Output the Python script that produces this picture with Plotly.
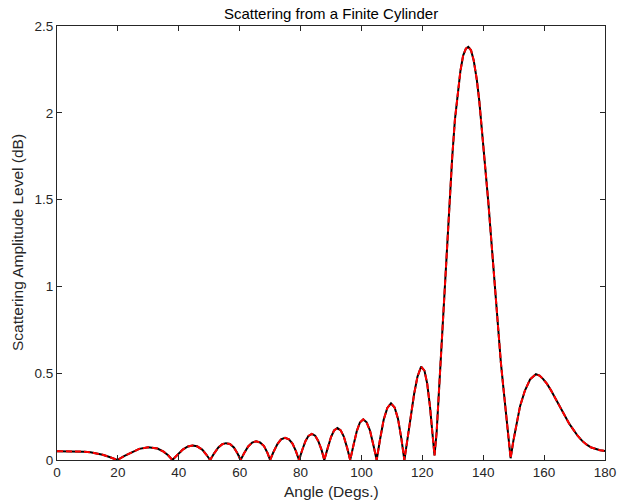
import plotly.graph_objects as go

# Angle (degrees) and scattering amplitude level
angle_deg = [
    0, 3, 6, 9, 11, 13, 15, 17, 18.5, 19.8,
    22, 24.5, 27, 30, 33, 35, 36.5, 37.9,
    39.5, 41.3, 43, 44.5, 46, 47.7, 49.1, 50.3,
    51.5, 53, 54.3, 55.5, 56.8, 58.1, 59.3, 60.3,
    61.5, 62.8, 64.1, 65.4, 66.7, 68.0, 69.1, 70.0,
    71.1, 72.4, 73.6, 74.9, 76.2, 77.4, 78.5, 79.5,
    80.5, 81.6, 82.6, 83.7, 84.8, 85.8, 86.9, 87.8,
    88.9, 90.0, 91.0, 92.1, 93.2, 94.2, 95.3, 96.3,
    97.4, 98.5, 99.5, 100.6, 101.7, 102.8, 103.9, 105.0,
    106.1, 107.3, 108.5, 109.7, 110.9, 112.0, 113.1, 114.1,
    115.2, 116.2, 117.3, 118.4, 119.6, 120.7, 121.6, 122.5, 123.3, 124.0,
    124.7, 125.5, 126.4, 127.2, 128.0, 128.9, 129.8, 130.7, 131.6, 132.5,
    133.4, 134.3, 135.1, 136.0, 136.9, 137.9, 138.7, 139.4, 140.6, 141.7,
    142.5, 143.3, 144.2, 145.0, 145.8, 146.6, 147.3, 148.0, 148.6, 149.0,
    149.9, 151.0, 152.1, 153.7, 155.4, 157.3, 158.5, 159.7, 160.9, 162.3,
    163.7, 165.2, 166.7, 168.2, 169.6, 171.0, 172.5, 174.0, 175.5, 177.0,
    178.4, 180.0,
]
level_exact = [
    0.051, 0.051, 0.050, 0.048, 0.045, 0.039, 0.030, 0.019, 0.009, 0.000,
    0.022, 0.045, 0.064, 0.074, 0.066, 0.048, 0.027, 0.000,
    0.030, 0.060, 0.078, 0.084, 0.079, 0.060, 0.030, 0.000,
    0.035, 0.072, 0.091, 0.097, 0.092, 0.072, 0.037, 0.000,
    0.040, 0.078, 0.100, 0.108, 0.101, 0.080, 0.042, 0.000,
    0.046, 0.092, 0.119, 0.128, 0.119, 0.093, 0.050, 0.000,
    0.055, 0.108, 0.139, 0.151, 0.140, 0.110, 0.058, 0.000,
    0.068, 0.132, 0.170, 0.184, 0.171, 0.135, 0.070, 0.000,
    0.086, 0.168, 0.216, 0.234, 0.217, 0.170, 0.088, 0.000,
    0.118, 0.232, 0.300, 0.326, 0.302, 0.238, 0.125, 0.000,
    0.130, 0.250, 0.380, 0.480, 0.538, 0.515, 0.440, 0.310, 0.160, 0.026,
    0.160, 0.420, 0.700, 0.950, 1.210, 1.480, 1.740, 1.960, 2.120, 2.240,
    2.330, 2.370, 2.380, 2.360, 2.300, 2.190, 2.070, 1.940, 1.710, 1.480,
    1.300, 1.110, 0.910, 0.720, 0.560, 0.420, 0.290, 0.180, 0.080, 0.010,
    0.110, 0.220, 0.310, 0.400, 0.465, 0.494, 0.486, 0.466, 0.440, 0.400,
    0.355, 0.305, 0.255, 0.210, 0.175, 0.140, 0.110, 0.088, 0.072, 0.062,
    0.056, 0.052,
]
level_approx = list(level_exact)

x_ticks = [0, 20, 40, 60, 80, 100, 120, 140, 160, 180]
y_ticks = [0, 0.5, 1, 1.5, 2, 2.5]
y_tick_labels = ["0", "0.5", "1", "1.5", "2", "2.5"]

AX = "#262626"
FONT = "Liberation Sans, Arial, Helvetica, sans-serif"

fig = go.Figure()
fig.add_trace(go.Scatter(x=angle_deg, y=level_exact, mode="lines",
                         line=dict(color="#000000", width=2), showlegend=False))
fig.add_trace(go.Scatter(x=angle_deg, y=level_approx, mode="lines",
                         line=dict(color="#ff0000", width=2, dash="6px,3px"),
                         showlegend=False))

axis_common = dict(showline=True, linecolor=AX, linewidth=1, mirror="ticks",
                   ticks="inside", ticklen=5, tickwidth=1, tickcolor=AX,
                   showgrid=False, zeroline=False, automargin=False,
                   tickfont=dict(family=FONT, size=13.5, color=AX))

fig.update_layout(
    width=619, height=504,
    margin=dict(l=57, r=14, t=26, b=44),
    paper_bgcolor="white", plot_bgcolor="white",
    title=dict(text="Scattering from a Finite Cylinder", x=0.5, xanchor="center",
               xref="paper", y=1 - 14 / 504, yref="container", yanchor="middle",
               font=dict(family=FONT, size=15, color="#000000"), automargin=False),
    xaxis=dict(range=[0, 180], tickvals=x_ticks, **axis_common),
    yaxis=dict(range=[0, 2.5], tickvals=y_ticks, ticktext=y_tick_labels, **axis_common),
    annotations=[
        dict(text="Angle (Degs.)", xref="paper", yref="paper", x=0.5, y=-(491 - 460) / 434,
             xanchor="center", yanchor="middle", showarrow=False,
             font=dict(family=FONT, size=15.5, color=AX)),
        dict(text="Scattering Amplitude Level (dB)", xref="paper", yref="paper",
             x=(17 - 57) / 548, y=0.5, xanchor="center", yanchor="middle",
             textangle=-90, showarrow=False,
             font=dict(family=FONT, size=15.5, color=AX)),
    ],
)

fig.write_html("out.html", config={"displayModeBar": False},
               post_script="document.body.style.margin='0';document.body.style.padding='0';")
